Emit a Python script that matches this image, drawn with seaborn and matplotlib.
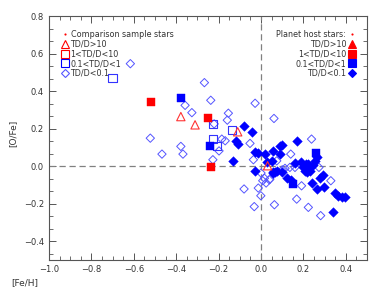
import matplotlib
matplotlib.use("Agg")
import matplotlib.pyplot as plt
from matplotlib.lines import Line2D
from matplotlib.ticker import MultipleLocator, AutoMinorLocator
import seaborn as sns

# DATA ([Fe/H], [O/Fe])
comp_diam_feh = [-0.616, -0.267, -0.358, -0.326, -0.237, -0.028, -0.154, 0.061, -0.159, -0.221,
                 -0.185, -0.169, -0.198, -0.227, -0.052, -0.036, -0.522, -0.378, -0.467, -0.368,
                 0.000, 0.008, 0.039, 0.024, -0.080, -0.013, -0.001, -0.032, 0.063, 0.074,
                 0.238, 0.140, 0.113, 0.136, 0.160, 0.042, 0.273, 0.329, 0.191, 0.168,
                 0.223, 0.281, 0.100, 0.016]
comp_diam_ofe = [0.546, 0.445, 0.324, 0.285, 0.351, 0.335, 0.282, 0.254, 0.245, 0.225,
                 0.144, 0.135, 0.081, 0.034, 0.121, 0.034, 0.149, 0.105, 0.064, 0.064,
                 -0.037, -0.078, -0.073, -0.090, -0.122, -0.117, -0.158, -0.216, -0.206, 0.028,
                 0.144, 0.064, -0.012, -0.007, -0.007, -0.069, -0.007, -0.078, -0.105, -0.176,
                 -0.220, -0.264, -0.020, -0.065]

comp_sq_feh = [-0.700, -0.227, -0.138, -0.227, -0.206]
comp_sq_ofe = [0.470, 0.223, 0.193, 0.144, 0.108]

comp_tri_feh = [-0.378, -0.311, -0.110, 0.031]
comp_tri_ofe = [0.264, 0.220, 0.183, 0.002]

host_red_sq_feh = [-0.518, -0.248, -0.237]
host_red_sq_ofe = [0.342, 0.257, -0.006]

host_blue_sq_feh = [-0.378, -0.240, 0.259, 0.149]
host_blue_sq_ofe = [0.365, 0.106, 0.068, -0.096]

host_diam_feh = [-0.080, -0.041, -0.118, -0.107, -0.130, -0.027, -0.012, 0.019, 0.058, -0.027,
                 0.027, 0.066, 0.055, 0.089, 0.100, 0.171, 0.089, 0.050, 0.160, 0.074,
                 0.097, 0.058, 0.199, 0.223, 0.243, 0.207, 0.231, 0.215, 0.254, 0.262,
                 0.124, 0.142, 0.278, 0.293, 0.238, 0.262, 0.298, 0.348, 0.364, 0.380,
                 0.395, 0.337, 0.210, 0.220, 0.190]
host_diam_ofe = [0.214, 0.181, 0.135, 0.117, 0.028, 0.073, 0.068, 0.064, 0.083, -0.025,
                 0.020, -0.034, -0.034, 0.108, 0.115, 0.135, 0.064, 0.028, 0.015, -0.028,
                 -0.034, -0.039, -0.007, 0.011, 0.005, -0.025, -0.025, -0.034, 0.028, 0.046,
                 -0.062, -0.074, -0.065, -0.048, -0.088, -0.124, -0.109, -0.144, -0.158, -0.167,
                 -0.167, -0.245, 0.010, -0.015, 0.020]

BLUE = "#0000ff"
RED = "#ff0000"
TXT = "#333333"

sns.set_style("ticks")
plt.rcParams['font.family'] = ['DejaVu Sans']

fig = plt.figure(figsize=(3.82, 2.92), dpi=100)
ax = fig.add_axes([0.128, 0.110, 0.833, 0.835])

# reference lines
ax.axhline(0, color="#808080", lw=0.9, ls=(0, (5, 3)), zorder=1)
ax.axvline(0, color="#808080", lw=0.9, ls=(0, (5, 3)), zorder=1)

# comparison sample (open)
sns.scatterplot(x=comp_diam_feh, y=comp_diam_ofe, marker="D", s=18,
                facecolor="none", edgecolor="#5555ff", linewidth=0.7, ax=ax, zorder=2)
sns.scatterplot(x=comp_sq_feh, y=comp_sq_ofe, marker="s", s=36,
                facecolor="none", edgecolor="#3333ff", linewidth=0.8, ax=ax, zorder=2)
sns.scatterplot(x=comp_tri_feh, y=comp_tri_ofe, marker="^", s=36,
                facecolor="none", edgecolor="#ff3333", linewidth=0.8, ax=ax, zorder=4)

# planet hosts (filled)
sns.scatterplot(x=host_diam_feh, y=host_diam_ofe, marker="D", s=24,
                color=BLUE, edgecolor=BLUE, linewidth=0.3, ax=ax, zorder=3)
sns.scatterplot(x=host_blue_sq_feh, y=host_blue_sq_ofe, marker="s", s=38,
                color=BLUE, edgecolor=BLUE, linewidth=0.3, ax=ax, zorder=3)
sns.scatterplot(x=host_red_sq_feh, y=host_red_sq_ofe, marker="s", s=38,
                color=RED, edgecolor=RED, linewidth=0.3, ax=ax, zorder=3)

ax.set_xlim(-1.0, 0.5)
ax.set_ylim(-0.5, 0.8)
ax.xaxis.set_major_locator(MultipleLocator(0.2))
ax.xaxis.set_minor_locator(AutoMinorLocator(4))
ax.yaxis.set_major_locator(MultipleLocator(0.2))
ax.yaxis.set_minor_locator(AutoMinorLocator(3))
ax.tick_params(which="both", direction="in", top=True, right=True,
               colors="#555555", labelsize=6, labelcolor=TXT)
ax.tick_params(which="major", length=5, width=0.7)
ax.tick_params(which="minor", length=3, width=0.6)
for s in ax.spines.values():
    s.set_color("#555555")
    s.set_linewidth(0.8)

ax.set_xlabel("[Fe/H]", fontsize=6.5, color=TXT)
ax.set_ylabel("[O/Fe]", fontsize=6.5, color=TXT)
ax.xaxis.set_label_coords(-0.075, -0.075)
ax.yaxis.set_label_coords(-0.1, 0.52)

# legends
def h(marker, fc, ec, ms, lw=0.8):
    return Line2D([], [], ls="none", marker=marker, markerfacecolor=fc,
                  markeredgecolor=ec, markersize=ms, markeredgewidth=lw)

left_handles = [h(".", RED, RED, 1.5), h("^", "none", RED, 5.5), h("s", "none", RED, 5.5),
                h("s", "none", BLUE, 5.5), h("D", "none", "#5555ff", 4)]
left_labels = ["Comparison sample stars", "TD/D>10", "1<TD/D<10", "0.1<TD/D<1", "TD/D<0.1"]
leg1 = ax.legend(left_handles, left_labels, loc="upper left", bbox_to_anchor=(0.03, 0.955),
                 frameon=False, fontsize=5.8, handlelength=0.8, handletextpad=0.3,
                 labelspacing=0.08, borderaxespad=0, labelcolor=TXT)
ax.add_artist(leg1)

right_handles = [h(".", RED, RED, 1.5), h("^", RED, RED, 5.5), h("s", RED, RED, 5.5),
                 h("s", BLUE, BLUE, 5.5), h("D", BLUE, BLUE, 4.5)]
right_labels = ["Planet host stars:", "TD/D>10", "1<TD/D<10", "0.1<TD/D<1", "TD/D<0.1"]
ax.legend(right_handles, right_labels, loc="upper right", bbox_to_anchor=(0.972, 0.955),
          frameon=False, fontsize=5.8, handlelength=0.8, handletextpad=0.3,
          labelspacing=0.08, borderaxespad=0, markerfirst=False, labelcolor=TXT)

fig.savefig("out.png", dpi=100)
